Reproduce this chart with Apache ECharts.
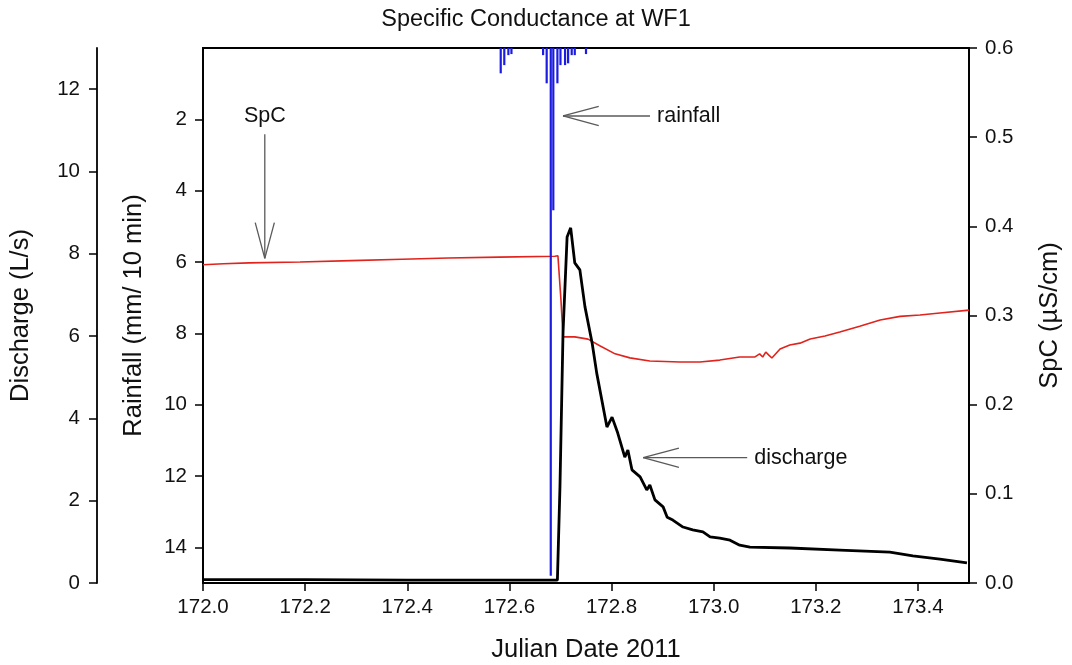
<!DOCTYPE html>
<html>
<head>
<meta charset="utf-8">
<script src="https://cdn.jsdelivr.net/npm/echarts@6/dist/echarts.min.js"></script>
<style>
  html, body { margin: 0; padding: 0; background: #fff; }
  #chart { width: 1072px; height: 665px; }
</style>
</head>
<body>
<div id="chart"></div>
<script>
// ---------- data ----------
const xTicks = [172.0, 172.2, 172.4, 172.6, 172.8, 173.0, 173.2, 173.4];
const rainTicks = [2, 4, 6, 8, 10, 12, 14];
const dischargeTicks = [0, 2, 4, 6, 8, 10, 12];

// Rainfall (mm / 10 min)
const rainDate = [172.583, 172.590, 172.598, 172.604, 172.666, 172.673, 172.681, 172.686, 172.694, 172.700, 172.709, 172.715, 172.722, 172.728, 172.750];
const rainValue = [0.71, 0.48, 0.20, 0.17, 0.20, 0.99, 14.8, 4.55, 0.99, 0.48, 0.48, 0.43, 0.20, 0.20, 0.17];

// Specific conductance (µS/cm)
const spcDate = [172.000, 172.04, 172.09, 172.19, 172.29, 172.39, 172.48, 172.58, 172.689, 172.695, 172.701, 172.705, 172.728, 172.754, 172.777, 172.807, 172.836, 172.875, 172.934, 172.973, 173.012, 173.051, 173.081, 173.090, 173.096, 173.102, 173.108, 173.114, 173.13, 173.149, 173.169, 173.189, 173.218, 173.247, 173.286, 173.326, 173.365, 173.404, 173.443, 173.5];
const spcValue = [0.357, 0.358, 0.359, 0.360, 0.3615, 0.363, 0.3645, 0.3655, 0.3665, 0.367, 0.317, 0.276, 0.276, 0.2735, 0.266, 0.257, 0.2525, 0.249, 0.2478, 0.2478, 0.250, 0.2535, 0.2535, 0.257, 0.2535, 0.259, 0.2555, 0.2523, 0.2624, 0.2669, 0.269, 0.2736, 0.277, 0.2815, 0.288, 0.295, 0.299, 0.3006, 0.3028, 0.306];

// Discharge (L/s)
const qDate = [172.000, 172.2, 172.4, 172.6, 172.694, 172.699, 172.705, 172.713, 172.720, 172.728, 172.738, 172.748, 172.762, 172.771, 172.791, 172.801, 172.812, 172.826, 172.832, 172.840, 172.856, 172.869, 172.875, 172.885, 172.901, 172.909, 172.920, 172.940, 172.959, 172.979, 172.993, 173.012, 173.032, 173.051, 173.071, 173.149, 173.247, 173.345, 173.390, 173.443, 173.496];
const qValue = [0.08, 0.08, 0.07, 0.07, 0.07, 2.33, 6.08, 8.41, 8.63, 7.78, 7.61, 6.71, 5.83, 5.10, 3.79, 4.03, 3.65, 3.06, 3.23, 2.75, 2.58, 2.26, 2.38, 2.02, 1.85, 1.60, 1.53, 1.36, 1.29, 1.24, 1.12, 1.09, 1.04, 0.92, 0.87, 0.85, 0.80, 0.75, 0.66, 0.58, 0.49];

// Annotations: label text and the data point the arrow points at
const annotations = [
  { text: 'SpC', date: 172.121, value: 0.3641, axis: 2, dir: 'down' },
  { text: 'rainfall', date: 172.705, value: 1.906, axis: 0, dir: 'left' },
  { text: 'discharge', date: 172.862, value: 3.045, axis: 1, dir: 'left' }
];

// ---------- chart ----------
const FONT = 'Liberation Sans, Arial, sans-serif';
const chart = echarts.init(document.getElementById('chart'), null, { renderer: 'canvas' });

const axisCommon = {
  axisLine: { show: true, onZero: false, lineStyle: { color: '#000', width: 1.8 } },
  axisTick: { show: true, inside: false, length: 8, lineStyle: { color: '#000', width: 1.5 } },
  axisLabel: { color: '#111', fontSize: 20.5, fontFamily: FONT },
  splitLine: { show: false },
  nameTextStyle: { color: '#111', fontSize: 25.5, fontFamily: FONT }
};

const option = {
  animation: false,
  backgroundColor: '#fff',
  title: {
    text: 'Specific Conductance at WF1',
    left: 'center', top: 3,
    textStyle: { fontSize: 23.5, fontWeight: 'normal', color: '#111', fontFamily: FONT }
  },
  grid: {
    left: 203, right: 103, top: 48, bottom: 82,
    show: true, borderColor: '#000', borderWidth: 1.8, backgroundColor: 'transparent',
    outerBoundsMode: 'none'
  },
  xAxis: [{
    type: 'value', min: 172.0, max: 173.5,
    name: 'Julian Date 2011', nameLocation: 'middle', nameGap: 54,
    ...axisCommon,
    axisTick: { ...axisCommon.axisTick, customValues: xTicks },
    axisLabel: { ...axisCommon.axisLabel, margin: 14, customValues: xTicks, formatter: v => v.toFixed(1) }
  }],
  yAxis: [
    {
      type: 'value', min: 0, max: 15, inverse: true, position: 'left',
      name: 'Rainfall (mm/ 10 min)', nameLocation: 'middle', nameGap: 56, nameRotate: 90,
      ...axisCommon,
      axisTick: { ...axisCommon.axisTick, customValues: rainTicks },
      axisLabel: { ...axisCommon.axisLabel, margin: 16, customValues: rainTicks }
    },
    {
      type: 'value', min: 0, max: 13, position: 'left', offset: 106,
      name: 'Discharge (L/s)', nameLocation: 'middle', nameGap: 63, nameRotate: 90,
      ...axisCommon,
      axisTick: { ...axisCommon.axisTick, customValues: dischargeTicks },
      axisLabel: { ...axisCommon.axisLabel, margin: 17, customValues: dischargeTicks }
    },
    {
      type: 'value', min: 0, max: 0.6, interval: 0.1, position: 'right',
      name: 'SpC (µS/cm)', nameLocation: 'middle', nameGap: 68, nameRotate: 90,
      ...axisCommon,
      axisLabel: { ...axisCommon.axisLabel, margin: 16, formatter: v => v.toFixed(1) }
    }
  ],
  series: [
    {
      name: 'SpC', type: 'line', xAxisIndex: 0, yAxisIndex: 2,
      data: spcDate.map((d, i) => [d, spcValue[i]]),
      showSymbol: false, symbol: 'none', z: 2,
      lineStyle: { color: '#e0231c', width: 1.6 }
    },
    {
      name: 'Rainfall', type: 'bar', xAxisIndex: 0, yAxisIndex: 0,
      data: rainDate.map((d, i) => [d, rainValue[i]]),
      barWidth: 2.2, z: 3,
      itemStyle: { color: '#1c1ce0' }
    },
    {
      name: 'Discharge', type: 'line', xAxisIndex: 0, yAxisIndex: 1,
      data: qDate.map((d, i) => [d, qValue[i]]),
      showSymbol: false, symbol: 'none', z: 4,
      lineStyle: { color: '#000', width: 2.8 }
    }
  ]
};

chart.setOption(option);

// ---------- annotation arrows placed through the axes ----------
function buildAnnotations() {
  const els = [];
  const ARROW = '#5a5a5a';
  const headLen = 37, headAng = 15 * Math.PI / 180;
  annotations.forEach(a => {
    const p = chart.convertToPixel({ xAxisIndex: 0, yAxisIndex: a.axis }, [a.date, a.value]);
    const tx = p[0], ty = p[1];
    let ux, uy, shaft, labelPos, align, vAlign;
    if (a.dir === 'down') {
      ux = 0; uy = -1; shaft = 124;
      labelPos = [tx, ty - shaft - 18]; align = 'center'; vAlign = 'middle';
    } else {
      ux = 1; uy = 0; shaft = a.text === 'rainfall' ? 87 : 104;
      labelPos = [tx + shaft + 7, ty]; align = 'left'; vAlign = 'middle';
    }
    const ex = tx + ux * shaft, ey = ty + uy * shaft;
    els.push({ type: 'line', shape: { x1: tx, y1: ty, x2: ex, y2: ey }, style: { stroke: ARROW, lineWidth: 1.3 }, z: 50 });
    const base = Math.atan2(uy, ux);
    [base + headAng, base - headAng].forEach(ang => {
      els.push({ type: 'line', shape: { x1: tx, y1: ty, x2: tx + Math.cos(ang) * headLen, y2: ty + Math.sin(ang) * headLen },
        style: { stroke: ARROW, lineWidth: 1.3 }, z: 50 });
    });
    els.push({ type: 'text', x: labelPos[0], y: labelPos[1],
      style: { text: a.text, fill: '#111', fontSize: 21.5, fontFamily: FONT, align: align, verticalAlign: vAlign }, z: 50 });
  });
  chart.setOption({ graphic: els });
}
buildAnnotations();
</script>
</body>
</html>
